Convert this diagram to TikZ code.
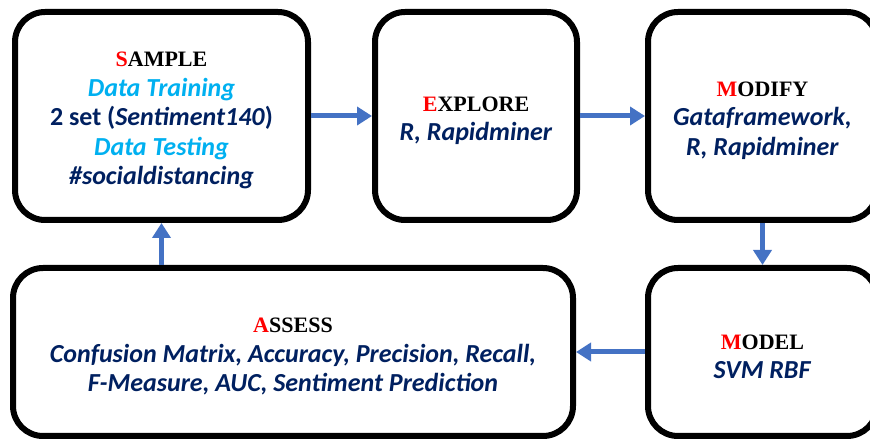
\documentclass[tikz,border=0pt]{standalone}
\usepackage{fontspec}
\setmainfont{Carlito}
\newfontfamily\headfont{Liberation Serif}
\usetikzlibrary{arrows.meta,positioning}
\definecolor{headred}{HTML}{FF0000}
\definecolor{lightblue}{HTML}{00B0F0}
\definecolor{navy}{HTML}{002060}
\definecolor{arrowblue}{HTML}{4472C4}
\newcommand{\stagehead}[2]{{\headfont\fontsize{22}{29.5}\selectfont\bfseries\rule{0pt}{24pt}\textcolor{headred}{#1}\textcolor{black}{#2}}}

\begin{document}
\begin{tikzpicture}[->, >={Triangle[length=15pt,width=18pt]}, x=1pt, y=1pt, stage/.style={draw, line width=6pt, rounded corners=30pt, outer sep=3pt, align=center, text=navy, font=\fontsize{26}{29.5}\selectfont\bfseries, minimum height=208pt}, flow/.style={draw=arrowblue, line width=5pt}]

							\useasboundingbox (0,0) rectangle (870,439);

							\node[stage, minimum width=293pt] (sample) at (161.5,323) {\stagehead{S}{AMPLE}\\ \textcolor{lightblue}{\itshape Data Training}\\ 2 set (\textit{Sentiment140})\\ \textcolor{lightblue}{\itshape Data Testing}\\ \textit{\#socialdistancing}};
							\node[stage, minimum width=202pt] (explore) [right=61pt of sample] {\stagehead{E}{XPLORE}\\ \textit{R, Rapidminer}};
							\node[stage, minimum width=229pt] (modify) [right=65pt of explore] {\stagehead{M}{ODIFY}\\ \textit{Gataframework,}\\ \textit{R, Rapidminer}};
							\node[stage, minimum width=229pt, minimum height=168pt] (model) [below=42pt of modify] {\stagehead{M}{ODEL}\\ \textit{SVM RBF}};
							\node[stage, minimum width=560pt, minimum height=168pt] (assess) [left=69pt of model] {\stagehead{A}{SSESS}\\ \textit{Confusion Matrix, Accuracy, Precision, Recall,}\\ \textit{F-Measure, AUC, Sentiment Prediction}};

							\path 
							(sample) edge[flow] (explore)
							(explore) edge[flow] (modify)
							(modify) edge[flow] (model)
							(model) edge[flow] (assess)
							(sample.south |- assess.north) edge[flow] (sample.south);

						\end{tikzpicture}
\end{document}
